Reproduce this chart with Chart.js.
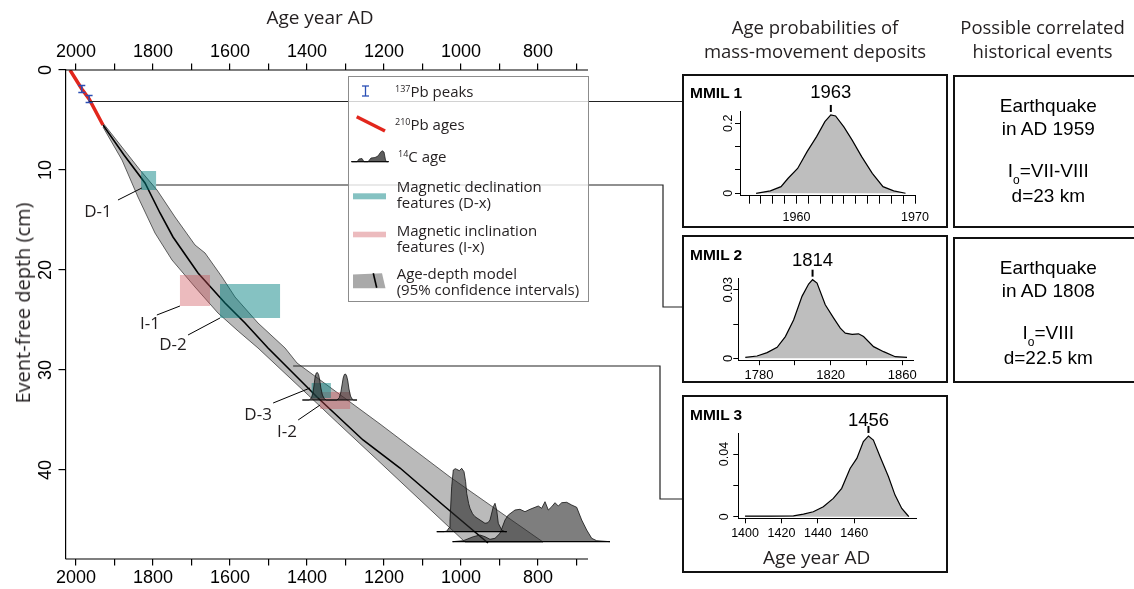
<!DOCTYPE html>
<html lang="en">
<head>
<meta charset="UTF-8">
<meta name="viewport" content="width=device-width, initial-scale=1.0">
<title>Age-depth model and mass-movement deposits</title>
<script src="https://cdn.jsdelivr.net/npm/chart.js"></script>
<style>
  html, body { margin: 0; padding: 0; background: #fff; }
  #page { position: relative; width: 1134px; height: 589px; overflow: hidden; color: #231f20;
          font-family: 'Open Sans', sans-serif; }
  #page canvas { position: absolute; }
  .txt { position: absolute; white-space: nowrap; line-height: 1; z-index: 3; }
  .c { transform: translate(-50%, -50%); }
  .l { transform: translateY(-50%); }
  .arial { font-family: 'Liberation Sans', Arial, sans-serif; color: #000; }
  .box { position: absolute; box-sizing: border-box; border: 2.5px solid #111; z-index: 2; }
  #legend { position: absolute; left: 348px; top: 76px; width: 241px; height: 226px; box-sizing: border-box;
            border: 1px solid #8c8c8c; background: rgba(255,255,255,0.8); z-index: 2; }
  #legend svg { position: absolute; left: 0; top: 0; }
  #legend .txt { font-size: 15px; line-height: 16px; }
  sup { font-size: 9px; vertical-align: 5px; line-height: 0; }
</style>
</head>
<body>
<div id="page">
  <canvas id="main" width="1134" height="589" style="left:0;top:0;"></canvas>

  <div class="txt c" style="left:320px; top:16.7px; font-size:19px;">Age year AD</div>
  <div class="txt" style="left:22.5px; top:303px; font-size:20px; transform:translate(-50%,-50%) rotate(-90deg);">Event-free depth (cm)</div>

  <div id="legend">
    <svg width="240" height="224">
      <g stroke="#2b4fb5" stroke-width="1.3">
        <line x1="16.5" y1="9" x2="16.5" y2="19"/>
        <line x1="13" y1="9" x2="20" y2="9"/>
        <line x1="13" y1="19" x2="20" y2="19"/>
      </g>
      <line x1="7.7" y1="39.7" x2="36" y2="54" stroke="#e2261c" stroke-width="3.5"/>
      <path d="M3,84.7 L8,84.7 L10,82 L13,81.5 L15,84.7 L19,84.7 L22,81 L26,80.5 L29,79 L31,76 L33,73.7 L35,75 L36.5,83 L37.5,84.7 L39,84.7 Z"
            fill="rgba(40,40,40,0.75)" stroke="#111" stroke-width="0.7"/>
      <line x1="2" y1="84.7" x2="40" y2="84.7" stroke="#000" stroke-width="1"/>
      <rect x="4" y="116.3" width="33" height="6" fill="rgba(0,128,128,0.48)"/>
      <rect x="4" y="154.7" width="33" height="5.6" fill="rgba(205,75,85,0.38)"/>
      <polygon points="4,197.5 33,196.3 36.5,211.3 4,211.3" fill="#a9a9a9"/>
      <line x1="24.3" y1="196.3" x2="27.7" y2="210.7" stroke="#000" stroke-width="1.6"/>
    </svg>
    <div class="txt l" style="left:46px; top:14px;"><sup>137</sup>Pb peaks</div>
    <div class="txt l" style="left:46px; top:47px;"><sup>210</sup>Pb ages</div>
    <div class="txt l" style="left:49px; top:79px;"><sup>14</sup>C age</div>
    <div class="txt l" style="left:47.7px; top:117px;">Magnetic declination<br>features (D-x)</div>
    <div class="txt l" style="left:47.7px; top:160.5px;">Magnetic inclination<br>features (I-x)</div>
    <div class="txt l" style="left:47.7px; top:203.5px;">Age-depth model<br>(95% confidence intervals)</div>
  </div>

  <div class="txt c" style="left:815px; top:27.3px; font-size:18.5px;">Age probabilities of</div>
  <div class="txt c" style="left:815px; top:51.3px; font-size:18.5px;">mass-movement deposits</div>
  <div class="txt c" style="left:1042.5px; top:27.3px; font-size:18.5px;">Possible correlated</div>
  <div class="txt c" style="left:1042.5px; top:51.3px; font-size:18.5px;">historical events</div>

  <canvas id="mmil1" width="267" height="155" style="left:682px; top:74px;"></canvas>
  <canvas id="mmil2" width="267" height="149" style="left:682px; top:235px;"></canvas>
  <canvas id="mmil3" width="267" height="178" style="left:682px; top:395px;"></canvas>
  <div class="box" style="left:681.7px; top:74px; width:266.6px; height:154.3px;"></div>
  <div class="box" style="left:681.7px; top:235px; width:266.6px; height:148.3px;"></div>
  <div class="box" style="left:681.7px; top:395px; width:266.6px; height:177.7px;"></div>
  <div class="txt l arial" style="left:690px; top:93.3px; font-size:15.5px; font-weight:bold;">MMIL 1</div>
  <div class="txt l arial" style="left:690px; top:255px; font-size:15.5px; font-weight:bold;">MMIL 2</div>
  <div class="txt l arial" style="left:690px; top:415px; font-size:15.5px; font-weight:bold;">MMIL 3</div>
  <div id="lbl1" class="txt c arial" style="font-size:18.5px;">1963</div>
  <div id="lbl2" class="txt c arial" style="font-size:18.5px;">1814</div>
  <div id="lbl3" class="txt c arial" style="font-size:18.5px;">1456</div>
  <div class="txt c" style="left:816.7px; top:556.7px; font-size:19px;">Age year AD</div>

  <div class="box" style="left:952.7px; top:75px; width:200px; height:153.3px;"></div>
  <div class="box" style="left:952.7px; top:236.7px; width:200px; height:146.6px;"></div>
  <div class="txt c arial" style="left:1048.3px; top:105px; font-size:19px;">Earthquake</div>
  <div class="txt c arial" style="left:1048.3px; top:128.3px; font-size:19px;">in AD 1959</div>
  <div class="txt c arial" style="left:1048.3px; top:170px; font-size:19px;">I<sub style="font-size:12px; vertical-align:-7px; line-height:0;">o</sub>=VII-VIII</div>
  <div class="txt c arial" style="left:1048.3px; top:195px; font-size:19px;">d=23 km</div>
  <div class="txt c arial" style="left:1048.3px; top:266.7px; font-size:19px;">Earthquake</div>
  <div class="txt c arial" style="left:1048.3px; top:290px; font-size:19px;">in AD 1808</div>
  <div class="txt c arial" style="left:1048.3px; top:331.7px; font-size:19px;">I<sub style="font-size:12px; vertical-align:-7px; line-height:0;">o</sub>=VIII</div>
  <div class="txt c arial" style="left:1048.3px; top:356.7px; font-size:19px;">d=22.5 km</div>
</div>

<script>
// 137Pb peaks (age AD, depth cm) with depth error
const peakAges = [1985, 1966];
const peakDepths = [1.9, 2.9];
const peakError = 0.35;

// 210Pb ages
const pbAges = [2015.6, 1985, 1966, 1930];
const pbDepths = [0, 1.9, 2.9, 5.5];

// age-depth model: 95% envelope (young and old edges) and median
const youngEdgeAges = [1929.9, 1880.5, 1839, 1794.8, 1750.6, 1690.9, 1631.2, 1579, 1527.3, 1397, 1320, 1217, 1109, 989.6];
const youngEdgeDepths = [5.7, 9.0, 12.7, 16.3, 19.0, 21.7, 24.3, 26.1, 27.8, 32.5, 35.3, 39.0, 42.9, 47.2];
const oldEdgeAges = [1929.9, 1833.8, 1789.6, 1742.9, 1690.9, 1664.9, 1620.8, 1587, 1527.3, 1457.1, 1426, 1210.4, 1028.6, 898.7, 787];
const oldEdgeDepths = [5.3, 10.0, 12.0, 14.7, 17.5, 18.3, 20.7, 22.7, 25.3, 27.8, 29.3, 35.4, 40.7, 44.2, 47.2];
const medianAges = [1929.9, 1875.3, 1820.8, 1781.8, 1748.1, 1683.1, 1613, 1561, 1501.3, 1470.1, 1374, 1254.5, 1158.4, 1046.8, 929.9];
const medianDepths = [5.5, 8.5, 11.3, 14.3, 16.7, 20.3, 23.3, 25.3, 27.8, 29.0, 32.7, 37.0, 39.8, 43.5, 47.3];

// magnetic features: [young, old] age and [top, bottom] depth
const declNames = ['D-1', 'D-2', 'D-3'];
const declAges = [[1831, 1792], [1626, 1470], [1388, 1338]];
const declDepths = [[10.1, 12.0], [21.4, 24.8], [31.3, 32.8]];
const inclNames = ['I-1', 'I-2'];
const inclAges = [[1730, 1652], [1366, 1288]];
const inclDepths = [[20.5, 23.6], [32.2, 33.9]];

// 14C age probabilities, plotted upward from the sample depth (heights in cm)
const c14Depths = [33.0, 46.17, 47.17];
const c14Spans = [[1412, 1270], [1063, 881], [1022, 613]];
const c14Ages = [
  [1412, 1394, 1389, 1385, 1382, 1379, 1376, 1373, 1370, 1367, 1364, 1360, 1355, 1350, 1322, 1316, 1312, 1309, 1306, 1303, 1300, 1297, 1294, 1291, 1287, 1283, 1279, 1270],
  [1063, 1045, 1037, 1031, 1028.6, 1024.2, 1020, 1015, 1011.2, 1004.4, 998.2, 992.2, 988, 985.2, 980, 976.6, 970, 963.6, 950.6, 937.7, 930, 924.7, 916.1, 911.7, 907.3, 903.1, 894.3, 885.7, 881],
  [1022, 994, 968.1, 950.6, 937.7, 924.7, 911.7, 898.7, 885.7, 877.1, 859.7, 846.8, 833.8, 820.8, 807.8, 799.2, 790.4, 781.8, 773.2, 764.4, 755.8, 747.3, 738.4, 725.5, 712.5, 699.5, 686.5, 673.5, 660.5, 647.5, 613]
];
const c14Heights = [
  [0, 0, 0.2, 0.6, 1.4, 2.3, 2.7, 2.75, 2.55, 2.0, 1.2, 0.5, 0.12, 0, 0, 0.25, 0.8, 1.5, 2.2, 2.55, 2.6, 2.4, 1.9, 1.1, 0.4, 0.1, 0, 0],
  [0, 0, 0.05, 0.4, 1.17, 4.5, 6.17, 6.3, 6.24, 6.1, 6.34, 6.0, 5.0, 3.84, 2.8, 2.34, 1.8, 1.5, 1.17, 0.84, 0.9, 1.17, 2.5, 2.84, 2.17, 0.84, 0.17, 0, 0],
  [0, 0.1, 0.5, 0.67, 0.5, 0.24, 0.34, 0.84, 2.17, 2.67, 3.17, 3.24, 3.0, 3.24, 3.44, 3.57, 3.34, 4.0, 3.17, 3.5, 3.9, 3.57, 3.9, 3.94, 3.67, 3.44, 2.17, 1.17, 0.34, 0.1, 0]
];

// main axes
const ageTicks = [2000, 1900, 1800, 1700, 1600, 1500, 1400, 1300, 1200, 1100, 1000, 900, 800, 700];
const ageLabels = [2000, 1800, 1600, 1400, 1200, 1000, 800];
const depthTicks = [0, 10, 20, 30, 40];
const ageAxisEnd = 670;

// mass-movement deposit age probabilities
const mmil1Ages = [1956.6, 1957.8, 1958.7, 1959.3, 1960.1, 1960.9, 1961.7, 1962.4, 1962.9, 1963.3, 1964.0, 1964.7, 1965.5, 1966.4, 1967.3, 1968.2, 1969.2];
const mmil1Prob = [0, 0.007, 0.019, 0.043, 0.071, 0.119, 0.162, 0.205, 0.224, 0.221, 0.19, 0.152, 0.105, 0.057, 0.019, 0.007, 0];
const mmil2Ages = [1772.3, 1778.9, 1784.5, 1790.1, 1794.7, 1799.3, 1804.0, 1807.7, 1809.9, 1812.4, 1817.0, 1821.7, 1825.4, 1828.2, 1832.0, 1835.6, 1838.4, 1844.0, 1849.6, 1856.1, 1862.7];
const mmil2Prob = [0.0004, 0.001, 0.0025, 0.0048, 0.0095, 0.0168, 0.0271, 0.0325, 0.0344, 0.0329, 0.0234, 0.0176, 0.0132, 0.011, 0.0105, 0.0107, 0.0095, 0.0051, 0.0029, 0.0007, 0.0004];
const mmil3Ages = [1400, 1413.7, 1426.6, 1432.1, 1437.5, 1443.0, 1448.5, 1453.1, 1457.7, 1461.4, 1465.0, 1467.8, 1470.5, 1474.2, 1478.8, 1482.4, 1486.1, 1489.2, 1490];
const mmil3Prob = [0.0004, 0.0004, 0.0006, 0.0017, 0.0032, 0.0064, 0.0117, 0.0181, 0.0308, 0.0372, 0.0479, 0.0515, 0.0489, 0.0383, 0.0255, 0.0138, 0.0053, 0.0011, 0];
const mmil1XTicks = [1956, 1957, 1958, 1959, 1960, 1961, 1962, 1963, 1964, 1965, 1966, 1967, 1968, 1969, 1970];
const mmil1XLabels = [1960, 1970];
const mmil1YTicks = [0, 0.0333, 0.0667, 0.1, 0.1333, 0.1667, 0.2, 0.2333];
const mmil1YLabels = [0, 0.2];
const mmil2XTicks = [1780, 1800, 1820, 1840, 1860];
const mmil2XLabels = [1780, 1820, 1860];
const mmil2YTicks = [0, 0.005, 0.01, 0.015, 0.02, 0.025, 0.03, 0.035];
const mmil2YLabels = [0, 0.03];
const mmil3XTicks = [1400, 1420, 1440, 1460];
const mmil3XLabels = [1400, 1420, 1440, 1460];
const mmil3YTicks = [0, 0.01, 0.02, 0.03, 0.04, 0.05];
const mmil3YLabels = [0, 0.04];

// annotations: feature labels with leader lines, connectors to the deposit panels
const featureLabels = [
  { text: 'D-1', at: [1943, 14.0], from: [1891, 13.0], to: [1829, 11.8] },
  { text: 'I-1', at: [1808, 25.2], from: [1790, 24.5], to: [1730, 23.6] },
  { text: 'D-2', at: [1748, 27.3], from: [1709, 26.5], to: [1626, 24.8] },
  { text: 'D-3', at: [1527, 34.3], from: [1488, 33.3], to: [1392, 31.8] },
  { text: 'I-2', at: [1452, 36.0], from: [1423, 35.0], to: [1366, 33.5] }
];
const connectors = [
  { age: 1966, depth: 3.15, bendX: null, endY: null },
  { age: 1792, depth: 11.5, bendX: 663, endY: 307 },
  { age: 1436, depth: 29.6, bendX: 660, endY: 499 }
];
const panelLeft = 682;

const sans = "'Liberation Sans', Arial, sans-serif";
const toPts = (ages, depths) => ages.map((a, i) => ({ x: a, y: depths[i] }));
const rectPts = (ages, depths) => [
  { x: ages[0], y: depths[0] }, { x: ages[1], y: depths[0] },
  { x: ages[1], y: depths[1] }, { x: ages[0], y: depths[1] }
];

const datasets = [];
datasets.push({
  data: [...toPts(youngEdgeAges, youngEdgeDepths), ...toPts(oldEdgeAges, oldEdgeDepths).reverse()],
  fill: 'shape', backgroundColor: '#bababa', borderColor: '#4d4d4d', borderWidth: 0.9, order: 10
});
datasets.push({ data: toPts(medianAges, medianDepths), borderColor: '#000', borderWidth: 1.6, order: 9 });
declAges.forEach((a, i) => datasets.push({
  label: declNames[i], data: rectPts(a, declDepths[i]), fill: 'shape',
  backgroundColor: 'rgba(0,128,128,0.48)', borderColor: 'transparent', borderWidth: 0, order: 8
}));
inclAges.forEach((a, i) => datasets.push({
  label: inclNames[i], data: rectPts(a, inclDepths[i]), fill: 'shape',
  backgroundColor: 'rgba(205,75,85,0.38)', borderColor: 'transparent', borderWidth: 0, order: 8
}));
c14Ages.forEach((ages, i) => {
  datasets.push({
    data: ages.map((a, k) => ({ x: a, y: c14Depths[i] - c14Heights[i][k] })), fill: 'shape',
    backgroundColor: 'rgba(40,40,40,0.6)', borderColor: '#111', borderWidth: 0.8, order: 7
  });
  datasets.push({ data: c14Spans[i].map(a => ({ x: a, y: c14Depths[i] })), borderColor: '#000', borderWidth: 1.2, order: 6 });
});
datasets.push({ data: toPts(pbAges, pbDepths), borderColor: '#e2261c', borderWidth: 3.5, order: 5 });
peakAges.forEach((a, i) => datasets.push({
  data: [{ x: a, y: peakDepths[i] - peakError }, { x: a, y: peakDepths[i] + peakError }],
  borderColor: '#2b4fb5', borderWidth: 1.5, pointStyle: 'line', pointRadius: 3.5,
  pointBorderColor: '#2b4fb5', pointBorderWidth: 1.5, order: 4
}));

const mainDecor = {
  id: 'mainDecor',
  afterDraw(chart) {
    const { ctx, chartArea, scales: { x, y } } = chart;
    const px = a => x.getPixelForValue(a), py = d => y.getPixelForValue(d);
    ctx.save();
    ctx.strokeStyle = '#000';
    ctx.lineWidth = 1.2;
    ctx.beginPath();
    ctx.moveTo(chartArea.left, chartArea.top); ctx.lineTo(px(ageAxisEnd), chartArea.top);
    ctx.moveTo(chartArea.left, chartArea.bottom); ctx.lineTo(px(ageAxisEnd), chartArea.bottom);
    ctx.stroke();
    ctx.lineWidth = 1;
    ctx.beginPath();
    featureLabels.forEach(f => {
      ctx.moveTo(px(f.from[0]), py(f.from[1]));
      ctx.lineTo(px(f.to[0]), py(f.to[1]));
    });
    ctx.stroke();
    ctx.strokeStyle = '#222';
    ctx.lineWidth = 1.2;
    ctx.beginPath();
    connectors.forEach(c => {
      const yy = py(c.depth);
      ctx.moveTo(px(c.age), yy);
      if (c.bendX === null) {
        ctx.lineTo(panelLeft, yy);
      } else {
        ctx.lineTo(c.bendX, yy);
        ctx.lineTo(c.bendX, c.endY);
        ctx.lineTo(panelLeft, c.endY);
      }
    });
    ctx.stroke();
    ctx.restore();
  }
};

// axis boxes are given fixed sizes so the plot area lands where the figure has it
const ageAxis = (position, size) => ({
  type: 'linear', position: position, reverse: true, min: 600, max: 2026,
  afterFit: s => { s.height = size; },
  afterBuildTicks: s => { s.ticks = ageTicks.map(v => ({ value: v })); },
  ticks: {
    autoSkip: false, maxRotation: 0, minRotation: 0, color: '#000',
    padding: position === 'top' ? 0.5 : 2.2,
    font: { family: sans, size: 18 },
    callback: v => ageLabels.includes(v) ? String(v) : ''
  },
  grid: { drawOnChartArea: false, tickLength: 6.5, color: '#000', lineWidth: 1.2 },
  border: { display: false }
});

const mainChart = new Chart(document.getElementById('main'), {
  type: 'line',
  data: { datasets: datasets },
  options: {
    responsive: false, animation: false, events: [],
    layout: { padding: { left: 0, top: 0, right: 519, bottom: 0 } },
    elements: { point: { radius: 0 }, line: { tension: 0 } },
    plugins: { legend: { display: false }, tooltip: { enabled: false } },
    scales: {
      x: ageAxis('bottom', 30),
      xTop: ageAxis('top', 70),
      y: {
        type: 'linear', position: 'left', reverse: true, min: 0, max: 48.9,
        afterFit: s => { s.width = 66; },
        afterBuildTicks: s => { s.ticks = depthTicks.map(v => ({ value: v })); },
        ticks: {
          minRotation: 90, maxRotation: 90, crossAlign: 'center', padding: 2.8, color: '#000',
          font: { family: sans, size: 18 }, callback: v => String(v)
        },
        grid: { drawOnChartArea: false, tickLength: 7.5, color: '#000', lineWidth: 1.2 },
        border: { display: true, color: '#000', width: 1.2 }
      }
    }
  },
  plugins: [mainDecor]
});

// place the feature labels at their data positions
featureLabels.forEach(f => {
  const el = document.createElement('div');
  el.className = 'txt c';
  el.style.fontSize = '17px';
  el.textContent = f.text;
  el.style.left = mainChart.scales.x.getPixelForValue(f.at[0]) + 'px';
  el.style.top = mainChart.scales.y.getPixelForValue(f.at[1]) + 'px';
  document.getElementById('page').appendChild(el);
});

const peakMark = {
  id: 'peakMark',
  afterDraw(chart, args, opts) {
    const { ctx, scales: { x, y } } = chart;
    const data = chart.data.datasets[0].data;
    let top = data[0];
    data.forEach(p => { if (p.y > top.y) top = p; });
    const px = x.getPixelForValue(top.x), py = y.getPixelForValue(top.y);
    ctx.save();
    ctx.strokeStyle = '#000';
    ctx.lineWidth = 2;
    ctx.beginPath();
    ctx.moveTo(px, py - 3);
    ctx.lineTo(px, py - 10);
    ctx.stroke();
    ctx.restore();
    const el = document.getElementById(opts.label);
    el.style.left = (chart.canvas.offsetLeft + px) + 'px';
    el.style.top = (chart.canvas.offsetTop + py - opts.gap) + 'px';
  }
};

function densityChart(id, ages, probs, cfg) {
  return new Chart(document.getElementById(id), {
    type: 'line',
    data: { datasets: [{
      data: ages.map((a, i) => ({ x: a, y: probs[i] })), fill: 'origin',
      backgroundColor: '#bebebe', borderColor: '#000', borderWidth: 1.2, pointRadius: 0, tension: 0
    }] },
    options: {
      responsive: false, animation: false, events: [],
      layout: { padding: { left: 0, bottom: 0, top: cfg.top, right: cfg.right } },
      plugins: { legend: { display: false }, tooltip: { enabled: false }, peakMark: { label: cfg.label, gap: cfg.gap } },
      scales: {
        x: {
          type: 'linear', min: cfg.xMin, max: cfg.xMax,
          afterFit: s => { s.height = cfg.xHeight; },
          afterBuildTicks: s => { s.ticks = cfg.xTicks.map(v => ({ value: v })); },
          ticks: {
            autoSkip: false, maxRotation: 0, color: '#000', padding: cfg.xPad,
            font: { family: sans, size: cfg.font },
            callback: v => cfg.xLabels.includes(v) ? String(v) : ''
          },
          grid: { drawOnChartArea: false, tickLength: cfg.xTick, color: '#000' },
          border: { color: '#000', width: 1 }
        },
        y: {
          type: 'linear', min: cfg.yMin, max: cfg.yMax,
          afterFit: s => { s.width = cfg.yWidth; },
          afterBuildTicks: s => { s.ticks = cfg.yTicks.map(v => ({ value: v })); },
          ticks: {
            minRotation: 90, maxRotation: 90, crossAlign: 'center', padding: cfg.yPad, color: '#000',
            font: { family: sans, size: cfg.font },
            callback: v => cfg.yLabels.includes(v) ? String(v) : ''
          },
          grid: { drawOnChartArea: false, tickLength: 5, color: '#000' },
          border: { color: '#000', width: 1 }
        }
      }
    },
    plugins: [peakMark]
  });
}

densityChart('mmil1', mmil1Ages, mmil1Prob, {
  top: 37.7, right: 34, yWidth: 58, xHeight: 33.3,
  xMin: 1955.24, xMax: 1970, yMin: -0.0069, yMax: 0.2333,
  xTicks: mmil1XTicks, xLabels: mmil1XLabels, yTicks: mmil1YTicks, yLabels: mmil1YLabels,
  font: 12.5, xPad: 6.3, xTick: 8, yPad: -2, label: 'lbl1', gap: 23
});
densityChart('mmil2', mmil2Ages, mmil2Prob, {
  top: 43.3, right: 35.7, yWidth: 56.3, xHeight: 23.3,
  xMin: 1768.4, xMax: 1866.2, yMin: -0.00105, yMax: 0.035,
  xTicks: mmil2XTicks, xLabels: mmil2XLabels, yTicks: mmil2YTicks, yLabels: mmil2YLabels,
  font: 13, xPad: 2.3, xTick: 4.5, yPad: -7.6, label: 'lbl2', gap: 19.3
});
densityChart('mmil3', mmil3Ages, mmil3Prob, {
  top: 38.3, right: 32.3, yWidth: 56.3, xHeight: 54.7,
  xMin: 1396.3, xMax: 1494.3, yMin: -0.001, yMax: 0.0532,
  xTicks: mmil3XTicks, xLabels: mmil3XLabels, yTicks: mmil3YTicks, yLabels: mmil3YLabels,
  font: 12.5, xPad: 3.2, xTick: 5, yPad: -3.9, label: 'lbl3', gap: 16
});
</script>
</body>
</html>
